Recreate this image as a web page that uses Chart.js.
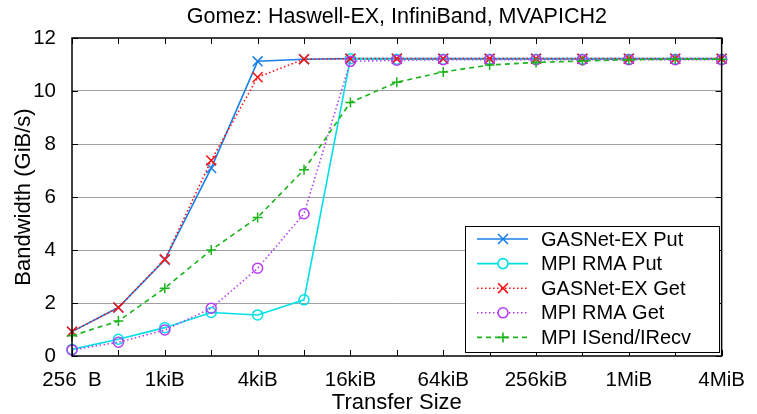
<!DOCTYPE html>
<html lang="en">
<head>
<meta charset="UTF-8">
<title>Gomez bandwidth</title>
<script src="https://cdn.jsdelivr.net/npm/chart.js"></script>
<style>
  html, body { margin: 0; padding: 0; background: #fff; }
  #wrap { width: 757px; height: 414px; }
</style>
</head>
<body>
<div id="wrap"><canvas id="grafico" width="757" height="414"></canvas></div>
<script>
// transfer sizes (x categories) and the ones that get a label
const sizes = ['256  B', '512  B', '1kiB', '2kiB', '4kiB', '8kiB', '16kiB', '32kiB',
               '64kiB', '128kiB', '256kiB', '512kiB', '1MiB', '2MiB', '4MiB'];
const shownTicks = ['256  B', '1kiB', '4kiB', '16kiB', '64kiB', '256kiB', '1MiB', '4MiB'];
const yTicks = [0, 2, 4, 6, 8, 10, 12];

// bandwidth in GiB/s
const gasnetPut = [0.92, 1.83, 3.63, 7.09, 11.12, 11.2, 11.22, 11.22, 11.22, 11.22, 11.22, 11.22, 11.22, 11.22, 11.22];
const rmaPut    = [0.25, 0.63, 1.07, 1.64, 1.55, 2.12, 11.22, 11.2, 11.2, 11.2, 11.2, 11.2, 11.2, 11.2, 11.2];
const gasnetGet = [0.92, 1.83, 3.65, 7.38, 10.52, 11.2, 11.22, 11.22, 11.22, 11.22, 11.22, 11.22, 11.22, 11.22, 11.22];
const rmaGet    = [0.23, 0.52, 0.98, 1.80, 3.31, 5.37, 11.12, 11.16, 11.18, 11.18, 11.18, 11.18, 11.18, 11.18, 11.18];
const isend     = [0.76, 1.32, 2.56, 4.00, 5.23, 7.03, 9.57, 10.33, 10.72, 10.98, 11.08, 11.13, 11.18, 11.2, 11.2];

const titulo = 'Gomez: Haswell-EX, InfiniBand, MVAPICH2';
const FONT = 'Liberation Sans, Arial, Helvetica, sans-serif';

function serie(label, data, color, style, radius, dash, order) {
    return {
        label: label,
        data: data,
        borderColor: color,
        backgroundColor: 'transparent',
        borderWidth: 1.6,
        borderDash: dash,
        pointStyle: style,
        pointRadius: radius,
        pointHoverRadius: radius,
        pointBorderColor: color,
        pointBackgroundColor: 'transparent',
        pointBorderWidth: 1.5,
        tension: 0,
        clip: false,
        order: order
    };
}

// box, inner tick marks, title and legend, gnuplot style
const moldura = {
    id: 'moldura',
    afterDatasetsDraw(chart) {
        const ctx = chart.ctx;
        const a = chart.chartArea;
        const x = chart.scales.x;
        const y = chart.scales.y;
        ctx.save();
        ctx.strokeStyle = '#000';
        ctx.lineWidth = 1;
        ctx.setLineDash([]);
        ctx.beginPath();
        sizes.forEach((s, i) => {
            const px = Math.round(x.getPixelForValue(i)) + 0.5;
            ctx.moveTo(px, a.bottom); ctx.lineTo(px, a.bottom - 6);
            ctx.moveTo(px, a.top); ctx.lineTo(px, a.top + 6);
        });
        yTicks.forEach(v => {
            const py = Math.round(y.getPixelForValue(v)) + 0.5;
            ctx.moveTo(a.left, py); ctx.lineTo(a.left + 6, py);
            ctx.moveTo(a.right, py); ctx.lineTo(a.right - 6, py);
        });
        ctx.stroke();
        ctx.lineWidth = 1.5;
        ctx.strokeRect(a.left, a.top, a.right - a.left, a.bottom - a.top);

        // title centred over the plot
        ctx.fillStyle = '#000';
        ctx.font = '21.5px ' + FONT;
        ctx.textAlign = 'center';
        ctx.textBaseline = 'middle';
        ctx.fillText(titulo, (a.left + a.right) / 2, 17);

        // legend
        const bx = 465, by = 226, bw = 254, bh = 126;
        ctx.fillStyle = '#fff';
        ctx.fillRect(bx, by, bw, bh);
        ctx.lineWidth = 1;
        ctx.strokeStyle = '#000';
        ctx.strokeRect(bx + 0.5, by + 0.5, bw, bh);
        ctx.font = '20px ' + FONT;
        ctx.textAlign = 'left';
        chart.data.datasets.forEach((ds, i) => {
            const ry = by + 13 + i * 24.6;
            ctx.strokeStyle = ds.borderColor;
            ctx.lineWidth = ds.borderWidth;
            ctx.setLineDash(ds.borderDash || []);
            ctx.beginPath();
            ctx.moveTo(477, ry); ctx.lineTo(528, ry);
            ctx.stroke();
            ctx.setLineDash([]);
            ctx.fillStyle = '#fff';
            Chart.helpers.drawPoint(ctx, {
                pointStyle: ds.pointStyle, radius: ds.pointRadius,
                borderWidth: ds.pointBorderWidth, rotation: 0
            }, 503, ry);
            ctx.fillStyle = '#000';
            ctx.fillText(ds.label, 541, ry + 1);
        });
        ctx.restore();
    }
};

const ctx = document.getElementById('grafico').getContext('2d');
new Chart(ctx, {
    type: 'line',
    data: {
        labels: sizes,
        datasets: [
            serie('GASNet-EX Put', gasnetPut, '#1a7fe8', 'crossRot', 7, [], 5),
            serie('MPI RMA Put', rmaPut, '#00e0e6', 'circle', 5, [], 4),
            serie('GASNet-EX Get', gasnetGet, '#ff1010', 'crossRot', 7, [1.5, 2.5], 3),
            serie('MPI RMA Get', rmaGet, '#b63cf5', 'circle', 5, [1.5, 2.5], 2),
            serie('MPI ISend/IRecv', isend, '#1cb41c', 'cross', 5, [5, 4], 1)
        ]
    },
    options: {
        responsive: false,
        animation: false,
        layout: { padding: { left: 0, right: 26, top: 38, bottom: 0 } },
        plugins: {
            legend: { display: false },
            tooltip: { enabled: false },
            title: { display: false }
        },
        scales: {
            x: {
                offset: false,
                grid: { display: false, drawTicks: false },
                border: { display: false },
                ticks: {
                    autoSkip: false,
                    maxRotation: 0,
                    padding: 12,
                    color: '#000',
                    font: { family: FONT, size: 20.5 },
                    callback: function (v, i) {
                        const s = sizes[i];
                        return shownTicks.includes(s) ? s : '';
                    }
                },
                title: {
                    display: true,
                    text: 'Transfer Size',
                    color: '#000',
                    font: { family: FONT, size: 22, lineHeight: 1 },
                    padding: { top: 0, bottom: 0 }
                },
                afterFit: s => { s.height = 58; }
            },
            y: {
                min: 0,
                max: 12,
                grid: {
                    drawTicks: false,
                    color: c => (c.tick.value === 0 || c.tick.value === 12) ? 'transparent' : '#a0a0a0',
                    lineWidth: 1
                },
                border: { display: false },
                ticks: {
                    stepSize: 2,
                    padding: 16,
                    color: '#000',
                    font: { family: FONT, size: 20.5 }
                },
                title: {
                    display: true,
                    text: 'Bandwidth (GiB/s)',
                    color: '#000',
                    font: { family: FONT, size: 22, lineHeight: 1 },
                    padding: { top: 12.5, bottom: 0 }
                },
                afterFit: s => { s.width = 72; }
            }
        }
    },
    plugins: [moldura]
});
</script>
</body>
</html>
